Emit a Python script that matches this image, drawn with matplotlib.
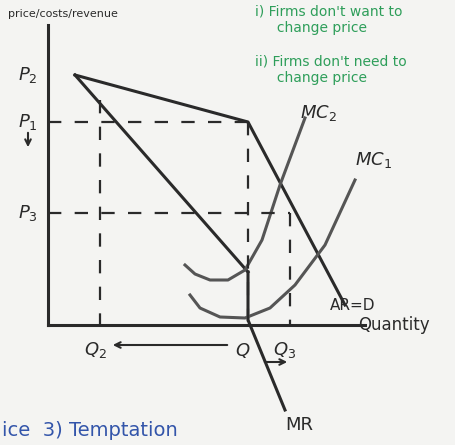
import numpy as np
import matplotlib.pyplot as plt

# kinked demand whiteboard sketch, coordinates in picture pixels
ar_x = [75, 248, 345]
ar_y = [75, 122, 305]
mr_x = [75, 248, 248, 285]
mr_y = [75, 272, 320, 410]
mc2_x = [185, 195, 210, 228, 245, 262, 280, 305]
mc2_y = [265, 274, 280, 280, 270, 240, 185, 118]
mc1_x = [190, 200, 220, 245, 270, 295, 325, 355]
mc1_y = [295, 308, 317, 318, 308, 285, 245, 180]

price_y = {'P_2': 75, 'P_1': 122, 'P_3': 213}
qty_x = {'Q_2': 100, 'Q': 248, 'Q_3': 290}

fig = plt.figure(figsize=(4.55, 4.45), dpi=100)
ax = fig.add_axes([0, 0, 1, 1])
ax.set_xlim(0, 455)
ax.set_ylim(445, 0)
ax.axis('off')
fig.patch.set_facecolor('#f4f4f2')

ink = '#2a2a2a'
lw = 2.2
# axes
ax.plot([48, 48], [25, 325], color=ink, lw=lw)
ax.plot([48, 365], [325, 325], color=ink, lw=lw)

ax.plot(ar_x, ar_y, color=ink, lw=lw)
ax.plot(mr_x[:2], mr_y[:2], color=ink, lw=lw)
ax.plot(mr_x[1:], mr_y[1:], color=ink, lw=lw)
ax.plot(mc2_x, mc2_y, color='#555555', lw=lw)
ax.plot(mc1_x, mc1_y, color='#555555', lw=lw)

# dashed guides
ax.plot([48, 248], [price_y['P_1']] * 2, color=ink, lw=1.6, ls=(0, (6, 6)))
ax.plot([248, 248], [122, 325], color=ink, lw=1.6, ls=(0, (6, 6)))
ax.plot([48, 290], [price_y['P_3']] * 2, color=ink, lw=1.6, ls=(0, (6, 6)))
ax.plot([290, 290], [213, 325], color=ink, lw=1.6, ls=(0, (6, 6)))
ax.plot([100, 100], [100, 325], color=ink, lw=1.6, ls=(0, (6, 6)))

fs = 13
ax.text(8, 14, 'price/costs/revenue', fontsize=8, color=ink, ha='left', va='center')
for name, y in price_y.items():
    ax.text(18, y, f'${name}$', fontsize=fs, color=ink, ha='left', va='center')
for name, x in qty_x.items():
    ax.text(x - 5, 350, f'${name}$', fontsize=fs, color=ink, ha='center', va='center')
ax.annotate('', xy=(28, 150), xytext=(28, 130),
            arrowprops=dict(arrowstyle='->', color=ink, lw=1.5))
ax.annotate('', xy=(110, 345), xytext=(230, 345),
            arrowprops=dict(arrowstyle='->', color=ink, lw=1.5))
ax.annotate('', xy=(290, 362), xytext=(262, 362),
            arrowprops=dict(arrowstyle='->', color=ink, lw=1.5))
ax.text(358, 325, 'Quantity', fontsize=12, color=ink, ha='left', va='center')
ax.text(300, 118, '$MC_2$', fontsize=fs, color=ink)
ax.text(355, 165, '$MC_1$', fontsize=fs, color=ink)
ax.text(330, 305, 'AR=D', fontsize=11, color=ink, ha='left', va='center')
ax.text(285, 425, 'MR', fontsize=fs, color=ink, ha='left', va='center')

green = '#2e9e5a'
ax.text(255, 20, "i) Firms don't want to\n     change price", fontsize=10, color=green, va='center')
ax.text(255, 70, "ii) Firms don't need to\n     change price", fontsize=10, color=green, va='center')
ax.text(2, 430, 'ice  3) Temptation', fontsize=14, color='#3355aa', va='center')

fig.savefig('out.png', dpi=100, facecolor=fig.get_facecolor())
